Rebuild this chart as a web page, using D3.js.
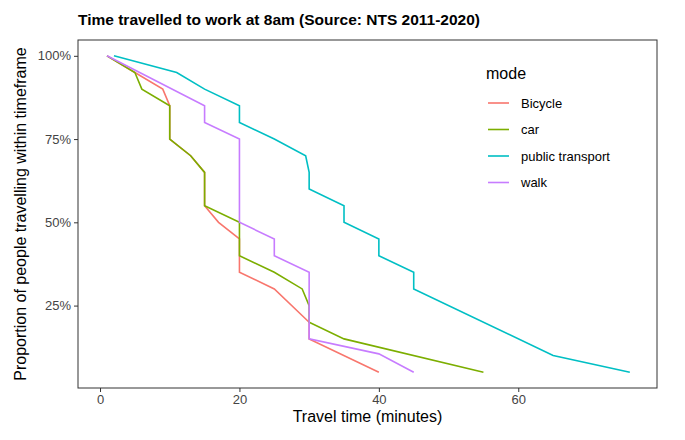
<!DOCTYPE html>
<html><head><meta charset="utf-8">
<script src="https://cdn.jsdelivr.net/npm/d3@7"></script>
<style>body{margin:0;background:#fff;font-family:"Liberation Sans",Arial,sans-serif}</style>
</head><body><svg id="c" width="685" height="440"></svg>
<script>
// [minutes, % still travelling]
var modes = ["Bicycle", "car", "public transport", "walk"];
var colors = ["#F8766D", "#7CAE00", "#00BFC4", "#C77CFF"];
var bicycle = [[1,100],[5,95],[9,90],[10,85],[10,75],[13,70],[15,65],[15,55],[17,50],[20,45],[20,35],[25,30],[30,20],[30,15],[40,5]];
var car = [[1,100],[5,95],[6,90],[10,85],[10,75],[13,70],[15,65],[15,55],[20,50],[20,40],[25,35],[29,30],[30,25],[30,20],[35,15],[55,5]];
var transport = [[2,100],[11,95],[15,90],[20,85],[20,80],[25,75],[29.5,70],[30,65],[30,60],[35,55],[35,50],[40,45],[40,40],[45,35],[45,30],[65,10],[76,5]];
var walk = [[1,100],[15,85],[15,80],[20,75],[20,50],[25,45],[25,40],[30,35],[30,15],[40,10.5],[45,5]];
var xTicks = [0, 20, 40, 60];
var yTicks = [25, 50, 75, 100];
var series = [bicycle, car, transport, walk];

var svg = d3.select("#c");
var L = 78, R = 657, T = 40, B = 388;
var x = d3.scaleLinear().domain([-3.16, 79.9]).range([L, R]);
var y = d3.scaleLinear().domain([0.25, 104.75]).range([B, T]);

svg.append("text").attr("x", L).attr("y", 25).attr("font-weight", "bold").attr("font-size", 15.5)
  .text("Time travelled to work at 8am (Source: NTS 2011-2020)");

svg.append("g").attr("transform", "translate(0," + B + ")")
  .call(d3.axisBottom(x).tickValues(xTicks).tickSize(4).tickFormat(d3.format("d")))
  .call(g => g.select(".domain").remove());
svg.append("g").attr("transform", "translate(" + L + ",0)")
  .call(d3.axisLeft(y).tickValues(yTicks).tickSize(4).tickFormat(d => d + "%"))
  .call(g => g.select(".domain").remove());
svg.selectAll(".tick text").attr("font-size", 13).attr("fill", "#444")
  .attr("font-family", "Liberation Sans, Arial, sans-serif");
svg.selectAll(".tick line").attr("stroke", "#333");

var line = d3.line().x(d => x(d[0])).y(d => y(d[1]));
svg.selectAll("path.s").data(series).join("path").attr("class", "s")
  .attr("d", line).attr("fill", "none").attr("stroke-width", 1.6)
  .attr("stroke", (d, i) => colors[i]);

svg.append("rect").attr("x", L).attr("y", T).attr("width", R - L).attr("height", B - T)
  .attr("fill", "none").attr("stroke", "#333").attr("stroke-width", 1);

svg.append("text").attr("x", (L + R) / 2).attr("y", 422).attr("text-anchor", "middle")
  .attr("font-size", 16).text("Travel time (minutes)");
svg.append("text").attr("transform", "translate(26," + (T + B) / 2 + ") rotate(-90)")
  .attr("text-anchor", "middle").attr("font-size", 16).text("Proportion of people travelling within timeframe");

var lg = svg.append("g").attr("transform", "translate(486,0)");
lg.append("text").attr("x", 0).attr("y", 79).attr("font-size", 16).text("mode");
modes.forEach(function (m, i) {
  var yy = 103 + i * 26.5;
  lg.append("line").attr("x1", 2).attr("x2", 23).attr("y1", yy).attr("y2", yy)
    .attr("stroke", colors[i]).attr("stroke-width", 1.6);
  lg.append("text").attr("x", 35).attr("y", yy + 4.5).attr("font-size", 13).text(m);
});
</script></body></html>
